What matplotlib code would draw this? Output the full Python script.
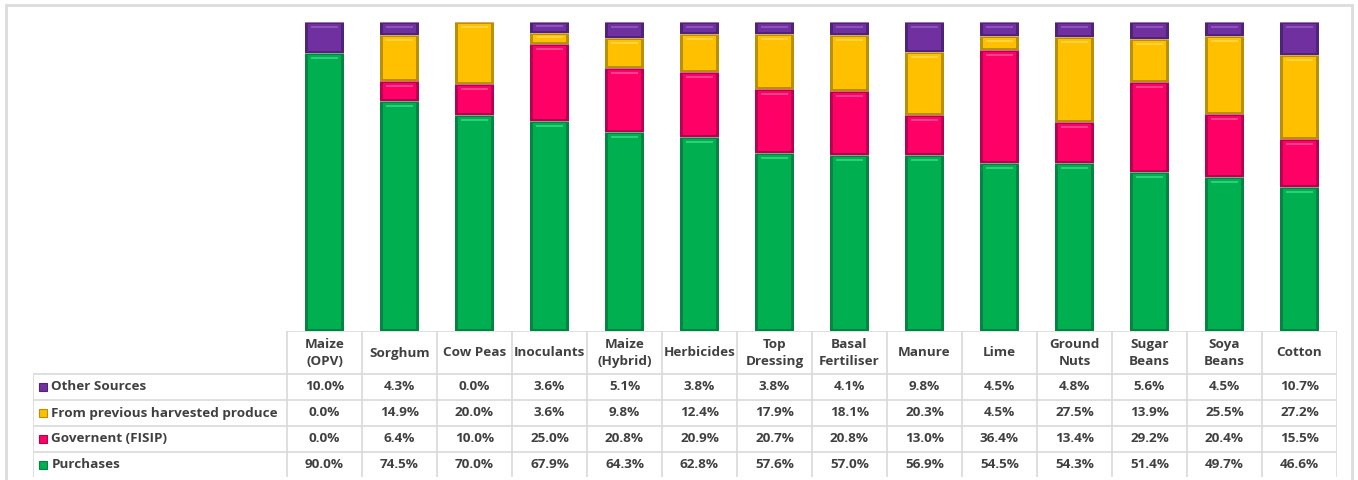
import numpy as np
import matplotlib
matplotlib.use('Agg')
import matplotlib.pyplot as plt
from matplotlib.patches import Rectangle

plt.rcParams['font.family'] = ['Open Sans', 'DejaVu Sans']

categories = ['Maize\n(OPV)', 'Sorghum', 'Cow Peas', 'Inoculants', 'Maize\n(Hybrid)',
              'Herbicides', 'Top\nDressing', 'Basal\nFertiliser', 'Manure', 'Lime',
              'Ground\nNuts', 'Sugar\nBeans', 'Soya\nBeans', 'Cotton']
purchases = [90.0, 74.5, 70.0, 67.9, 64.3, 62.8, 57.6, 57.0, 56.9, 54.5, 54.3, 51.4, 49.7, 46.6]
government = [0.0, 6.4, 10.0, 25.0, 20.8, 20.9, 20.7, 20.8, 13.0, 36.4, 13.4, 29.2, 20.4, 15.5]
previous = [0.0, 14.9, 20.0, 3.6, 9.8, 12.4, 17.9, 18.1, 20.3, 4.5, 27.5, 13.9, 25.5, 27.2]
other = [10.0, 4.3, 0.0, 3.6, 5.1, 3.8, 3.8, 4.1, 9.8, 4.5, 4.8, 5.6, 4.5, 10.7]

# stacking order, bottom to top
series = [
    ('Purchases', purchases, '#00B050', '#008542', '#3CE08A'),
    ('Governent (FISIP)', government, '#FF0066', '#B80052', '#FF5C9A'),
    ('From previous harvested produce', previous, '#FFC000', '#B89000', '#FFDA5C'),
    ('Other Sources', other, '#7030A0', '#50237A', '#9A62C8'),
]
# table rows, top to bottom
table_rows = series[::-1]

W, H = 1358, 480
fig = plt.figure(figsize=(W / 100, H / 100), dpi=100)
txt = '#404040'
grid = '#D9D9D9'

# outer frame
fig.patches.append(Rectangle((6 / W, -0.02), (1352 - 6) / W, 1.02 - 5 / H,
                             transform=fig.transFigure, fill=False,
                             edgecolor='#DCDCDC', linewidth=2))

x_left, x_right = 287, 1337
y_top, y_zero = 22, 331
ax = fig.add_axes([x_left / W, 1 - y_zero / H, (x_right - x_left) / W, (y_zero - y_top) / H])
x = np.arange(len(categories))
width = 0.52
bottom = np.zeros(len(categories))
px = 100 / (y_zero - y_top)  # data units per pixel
for name, vals, base, dark, light in series:
    vals = np.array(vals)
    for xi, b, v in zip(x, bottom, vals):
        if v <= 0:
            continue
        # bevelled segment: dark rim, base face, light top edge
        ax.bar(xi, v, width, bottom=b, color=dark, linewidth=0)
        inset = min(2.0 * px, v * 0.2)
        ax.bar(xi, v - 2 * inset, width * 0.86, bottom=b + inset, color=base, linewidth=0)
        hl = min(2.0 * px, v * 0.15)
        ax.bar(xi, hl, width * 0.7, bottom=b + v - inset - 2 * hl, color=light,
               linewidth=0, alpha=0.7)
        ax.bar(xi, 1.0 * px, width, bottom=b + v - 1.0 * px, color='#F4C7D2',
               linewidth=0, alpha=0.5)
    bottom += vals
ax.set_xlim(-0.5, len(categories) - 0.5)
ax.set_ylim(0, 100)
ax.axis('off')

# data table below the columns
row_h = 26
head_h = 43
label_w = (x_left - 33) / ((x_right - x_left) / len(categories))
tab_top, tab_bot = 331, 477
tax = fig.add_axes([33 / W, 1 - tab_bot / H, (x_right - 33) / W, (tab_bot - tab_top) / H])
tax.set_xlim(-0.5 - label_w, len(categories) - 0.5)
tax.set_ylim(tab_bot - tab_top, 0)
tax.axis('off')

lw = 1.2
xmax = len(categories) - 0.5
# header row lines
tax.plot([-0.5, xmax], [0, 0], color=grid, lw=lw)
for i in range(len(categories) + 1):
    tax.plot([i - 0.5, i - 0.5], [0, head_h + 4 * row_h], color=grid, lw=lw)
for r in range(5):
    y = head_h + r * row_h
    tax.plot([-0.5 - label_w, xmax], [y, y], color=grid, lw=lw)
tax.plot([-0.5 - label_w] * 2, [head_h, head_h + 4 * row_h], color=grid, lw=lw)

fs = 9.7
for i, cat in enumerate(categories):
    tax.text(i, head_h / 2 + 0.5, cat, ha='center', va='center', fontsize=fs,
             fontweight='bold', color=txt, linespacing=1.45)

for r, (name, vals, base, dark, light) in enumerate(table_rows):
    yc = head_h + (r + 0.5) * row_h
    tax.plot(-0.5 - label_w + 0.135, yc, marker='s', markersize=6.0,
             markerfacecolor=base, markeredgecolor=dark, markeredgewidth=0.8)
    tax.text(-0.5 - label_w + 0.245, yc, name, ha='left', va='center', fontsize=fs,
             fontweight='bold', color=txt)
    for i, v in enumerate(vals):
        tax.text(i, yc, f'{v:.1f}%', ha='center', va='center', fontsize=fs,
                 fontweight='bold', color=txt)

fig.savefig('out.png', dpi=100, facecolor='white')
